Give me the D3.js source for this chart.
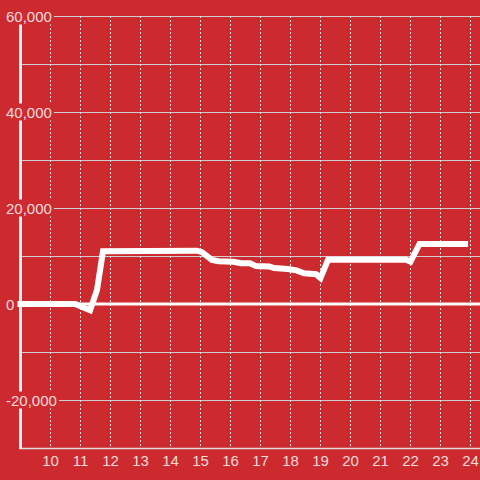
<!DOCTYPE html>
<html>
<head>
<meta charset="utf-8">
<script src="https://cdn.jsdelivr.net/npm/d3@7"></script>
<style>
  html, body { margin: 0; padding: 0; background: #cc2a2f; }
  svg { display: block; }
  text { font-family: "Liberation Sans", Arial, sans-serif; }
</style>
</head>
<body>
<svg id="chart" width="480" height="480"></svg>
<script>
// ---- data (hour of day, value) ----
const hours = [8.9, 10.0, 10.82, 11.32, 11.55, 11.75, 14.88, 15.05, 15.38, 15.6, 16.1, 16.35, 16.65, 16.85, 17.3, 17.45, 17.9, 18.2, 18.45, 18.85, 19.0, 19.25, 21.85, 22.0, 22.3, 23.92];
const values = [0, 0, 0, -1300, 2900, 11000, 11100, 10800, 9200, 8900, 8800, 8500, 8500, 7900, 7800, 7500, 7300, 7000, 6400, 6200, 5400, 9200, 9200, 8800, 12500, 12500];
const xTicks = [10, 11, 12, 13, 14, 15, 16, 17, 18, 19, 20, 21, 22, 23, 24];
const yGridTicks = [-30000, -20000, -10000, 0, 10000, 20000, 30000, 40000, 50000, 60000];
const yLabelTicks = [-20000, 0, 20000, 40000, 60000];

const W = 480, H = 480;
const bg = "#cc2a2f";
const svg = d3.select("#chart");
svg.append("rect").attr("width", W).attr("height", H).attr("fill", bg);

const x = d3.scaleLinear().domain([9, 24.3167]).range([20.5, 480]);
const y = d3.scaleLinear().domain([-30000, 60000]).range([448, 16]);

// horizontal gridlines
svg.append("g").selectAll("line").data(yGridTicks.filter(d => d !== 0 && d !== -30000)).join("line")
  .attr("x1", x(9)).attr("x2", W)
  .attr("y1", d => Math.round(y(d)) + 0.5).attr("y2", d => Math.round(y(d)) + 0.5)
  .attr("stroke", "#cfcfcf").attr("stroke-width", 1);

// vertical dotted gridlines
svg.append("g").selectAll("line").data(xTicks).join("line")
  .attr("x1", d => Math.round(x(d)) + 0.5).attr("x2", d => Math.round(x(d)) + 0.5)
  .attr("y1", y(60000)).attr("y2", y(-30000))
  .attr("stroke", "#e2e2e2").attr("stroke-width", 1).attr("stroke-dasharray", "2,2");

// zero line
svg.append("line")
  .attr("x1", x(9)).attr("x2", W).attr("y1", y(0)).attr("y2", y(0))
  .attr("stroke", "#ffffff").attr("stroke-width", 3);

// bottom axis line
svg.append("line")
  .attr("x1", 19).attr("x2", W).attr("y1", y(-30000) + 0.5).attr("y2", y(-30000) + 0.5)
  .attr("stroke", "#dddddd").attr("stroke-width", 1.5);

// left axis line
svg.append("line")
  .attr("x1", 20.5).attr("x2", 20.5).attr("y1", y(60000)).attr("y2", y(-30000) + 1)
  .attr("stroke", "#eeeeee").attr("stroke-width", 3);

// data line
const pts = hours.map((h, i) => [h, values[i]]);
svg.append("path").datum(pts)
  .attr("fill", "none").attr("stroke", "#ffffff").attr("stroke-width", 6)
  .attr("d", d3.line().x(d => x(d[0])).y(d => y(d[1])));

// x tick labels
svg.append("g").selectAll("text").data(xTicks).join("text")
  .attr("x", d => x(d)).attr("y", 466)
  .attr("text-anchor", "middle").attr("font-size", 15)
  .attr("fill", "#f5dcdc")
  .text(d => d);

// y tick labels with background
const fmt = d3.formatLocale({decimal: ".", thousands: ",", grouping: [3], currency: ["", ""], minus: "-"}).format(",");
const yl = svg.append("g").selectAll("g").data(yLabelTicks).join("g");
yl.append("text")
  .attr("x", 6).attr("y", d => y(d) + 5.5)
  .attr("text-anchor", "start").attr("font-size", 15)
  .attr("fill", "#f5dcdc")
  .text(d => fmt(d));
yl.each(function () {
  const t = d3.select(this).select("text").node();
  const b = t.getBBox();
  d3.select(this).insert("rect", "text")
    .attr("x", b.x - 2).attr("y", b.y).attr("width", b.width + 4).attr("height", b.height)
    .attr("fill", bg);
});
</script>
</body>
</html>
